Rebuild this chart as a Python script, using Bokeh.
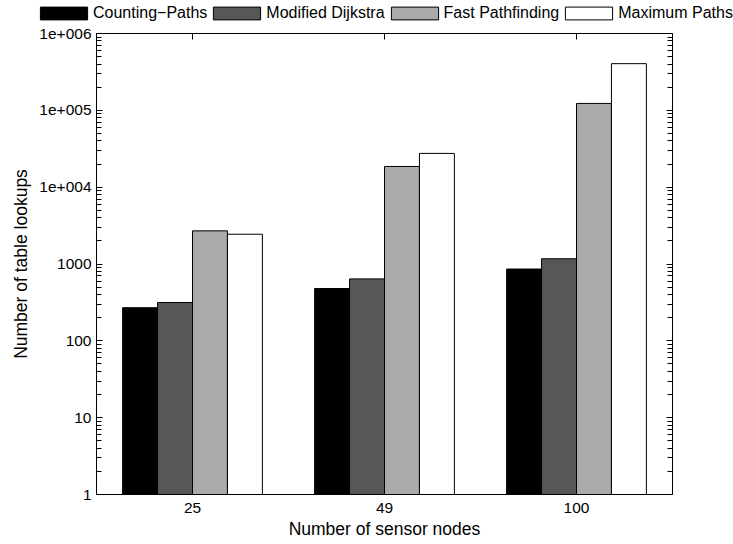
from bokeh.plotting import figure
from bokeh.layouts import column
from bokeh.models import (FactorRange, Range1d, LogAxis, CategoricalAxis, FixedTicker,
                          Legend, LegendItem, ColumnDataSource)
from bokeh.transform import dodge
from bokeh.embed import file_html
from bokeh.resources import INLINE

# ---- data ----
nodes = ["25", "49", "100"]
series_names = ["Counting\u2212Paths", "Modified Dijkstra", "Fast Pathfinding", "Maximum Paths"]
counting_paths = [270, 480, 860]
modified_dijkstra = [315, 640, 1170]
fast_pathfinding = [2700, 18600, 123000]
maximum_paths = [2440, 27500, 405000]
y_ticks = [1, 10, 100, 1000, 10000, 100000, 1000000]
y_tick_labels = ["1", "10", "100", "1000", "1e+004", "1e+005", "1e+006"]

FONT = "Liberation Sans"
colors = ["#000000", "#575757", "#aaaaaa", "#ffffff"]
offsets = [-0.273, -0.091, 0.091, 0.273]
bar_w = 0.182
LEG_H = 22
cols = ["s0", "s1", "s2", "s3"]

src = ColumnDataSource(data=dict(
    x=nodes,
    s0=counting_paths,
    s1=modified_dijkstra,
    s2=fast_pathfinding,
    s3=maximum_paths,
))


def no_align(fig):
    if "frame_align" in fig.properties():
        fig.frame_align = False


# ---------------- main plot ----------------
p = figure(width=733, height=544 - LEG_H,
           x_range=FactorRange(*nodes, range_padding=0),
           y_range=Range1d(1, 1e6), y_axis_type="log",
           output_backend="svg", toolbar_location=None,
           min_border_left=96, min_border_right=61,
           min_border_top=11, min_border_bottom=50)
no_align(p)
p.xgrid.grid_line_color = None
p.ygrid.grid_line_color = None
p.outline_line_color = "black"
p.outline_line_width = 1
p.background_fill_color = "white"
p.border_fill_color = "white"

for i, col in enumerate(cols):
    p.vbar(x=dodge("x", offsets[i], range=p.x_range), top=col, bottom=1,
           width=bar_w, fill_color=colors[i], line_color="black",
           line_width=1, source=src)

minor = [d * k for d in y_ticks[:-1] for k in range(2, 10)]
yticker = FixedTicker(ticks=y_ticks, minor_ticks=minor)
overrides = {t: lab for t, lab in zip(y_ticks, y_tick_labels)}

ya = p.yaxis[0]
ya.ticker = yticker
ya.major_label_overrides = overrides
ya.major_tick_in = 6
ya.major_tick_out = 0
ya.minor_tick_in = 5
ya.minor_tick_out = 0
ya.major_label_standoff = 5
ya.major_label_text_font = FONT
ya.major_label_text_font_size = "15.5px"
ya.major_label_text_color = "black"
ya.axis_label = "Number of table lookups"
ya.axis_label_text_font = FONT
ya.axis_label_text_font_size = "17.5px"
ya.axis_label_text_font_style = "normal"
ya.axis_label_text_color = "black"
ya.axis_label_standoff = 5
ya.axis_line_color = "black"

xa = p.xaxis[0]
xa.major_tick_in = 6
xa.major_tick_out = 0
xa.major_label_standoff = 8
xa.major_label_text_font = FONT
xa.major_label_text_font_size = "15.5px"
xa.major_label_text_color = "black"
xa.axis_label = "Number of sensor nodes"
xa.axis_label_text_font = FONT
xa.axis_label_text_font_size = "17.5px"
xa.axis_label_text_font_style = "normal"
xa.axis_label_text_color = "black"
xa.axis_label_standoff = 3
xa.axis_line_color = "black"

ra = LogAxis(ticker=yticker, major_label_text_font_size="1px", major_label_text_alpha=0,
             major_label_standoff=0,
             major_tick_in=6, major_tick_out=0, minor_tick_in=5, minor_tick_out=0,
             axis_line_color="black")
p.add_layout(ra, "right")

ta = CategoricalAxis(major_label_text_font_size="1px", major_label_text_alpha=0,
                     major_label_standoff=0,
                     major_tick_in=6, major_tick_out=0, axis_line_color="black")
p.add_layout(ta, "above")

# ---------------- legend strip ----------------
# same bars, drawn on a range far above the data so that only the legend shows
lg = figure(width=733, height=LEG_H,
            x_range=FactorRange(*nodes, range_padding=0),
            y_range=Range1d(1e7, 1e8), y_axis_type="log",
            output_backend="svg", toolbar_location=None,
            min_border=0, min_border_left=0, min_border_right=0,
            min_border_top=0, min_border_bottom=0)
no_align(lg)
lg.axis.visible = False
lg.xgrid.grid_line_color = None
lg.ygrid.grid_line_color = None
lg.outline_line_color = None
lg.background_fill_color = "white"
lg.border_fill_color = "white"

leg_renderers = []
for i, col in enumerate(cols):
    r = lg.vbar(x=dodge("x", offsets[i], range=lg.x_range), top=col, bottom=1,
                width=bar_w, fill_color=colors[i], line_color="black",
                line_width=1, source=src)
    leg_renderers.append(r)

items = [LegendItem(label=series_names[i], renderers=[leg_renderers[i]]) for i in range(4)]
legend = Legend(items=items, orientation="horizontal", location=(34, 0),
                glyph_width=59, glyph_height=16, label_height=16,
                label_standoff=0, spacing=0, padding=0, margin=0,
                border_line_color=None, background_fill_alpha=0,
                label_text_font=FONT, label_text_font_size="16px",
                label_text_color="black")
lg.add_layout(legend, "center")

layout = column(lg, p, spacing=0)
open("out.html", "w").write(file_html(layout, INLINE))
